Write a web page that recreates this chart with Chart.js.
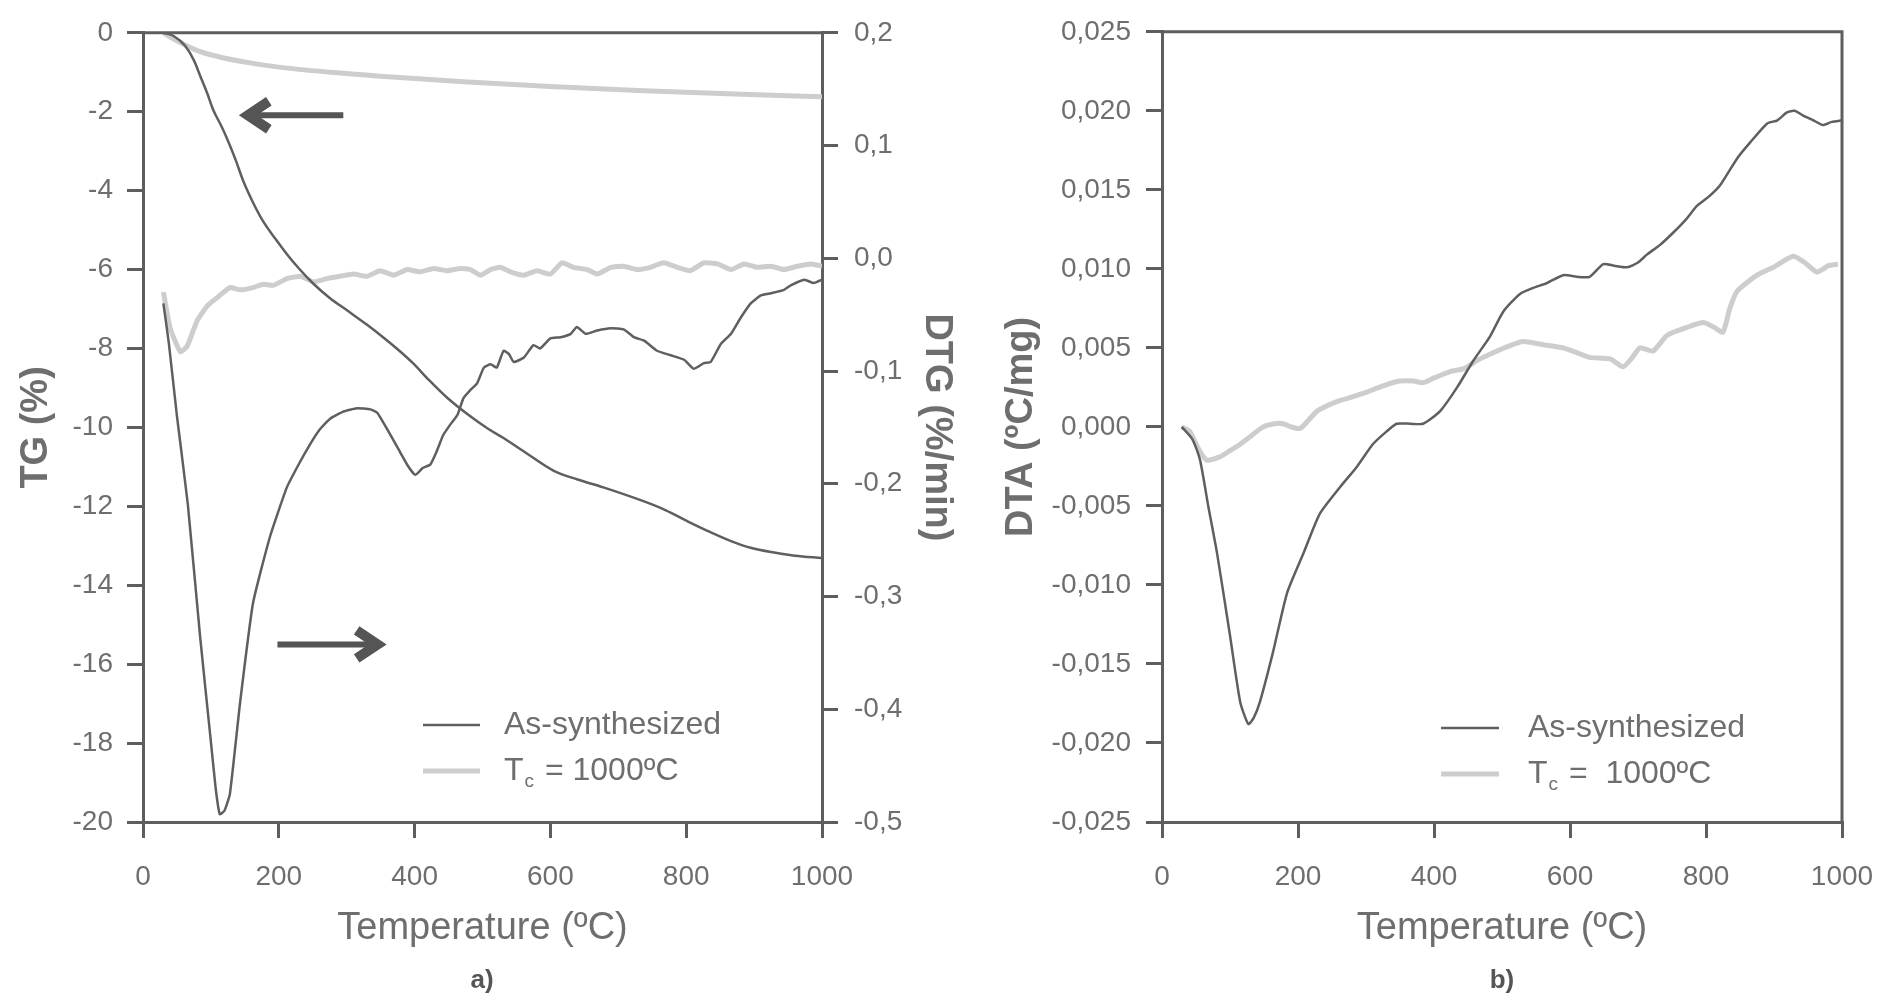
<!DOCTYPE html>
<html>
<head>
<meta charset="utf-8">
<script src="https://cdn.jsdelivr.net/npm/chart.js@4.4.1/dist/chart.umd.min.js"></script>
<style>
  html, body { margin: 0; padding: 0; background: #ffffff; }
  body { width: 1883px; height: 999px; overflow: hidden; position: relative; }
  canvas { position: absolute; top: 0; }
  #cA { left: 0; }
  #cB { left: 960px; }
  .panel { position: absolute; top: 963px; width: 60px; margin-left: -30px; text-align: center;
           font: bold 26px 'Liberation Sans', Arial, sans-serif; color: #555555; line-height: 32px; }
</style>
</head>
<body>
<canvas id="cA" width="960" height="999"></canvas>
<canvas id="cB" width="923" height="999"></canvas>
<div class="panel" id="pA" style="left:482px">a)</div>
<div class="panel" id="pB" style="left:1502px">b)</div>
<script>
// ---------------- data ----------------
const xTickValues = [0, 200, 400, 600, 800, 1000];
const xTickLabels = ['0', '200', '400', '600', '800', '1000'];
const tgTickValues = [0, -2, -4, -6, -8, -10, -12, -14, -16, -18, -20];
const tgTickLabels = ['0', '-2', '-4', '-6', '-8', '-10', '-12', '-14', '-16', '-18', '-20'];
const dtgTickValues = [0.2, 0.1, 0.0, -0.1, -0.2, -0.3, -0.4, -0.5];
const dtgTickLabels = ['0,2', '0,1', '0,0', '-0,1', '-0,2', '-0,3', '-0,4', '-0,5'];
const dtaTickValues = [0.025, 0.020, 0.015, 0.010, 0.005, 0.000, -0.005, -0.010, -0.015, -0.020, -0.025];
const dtaTickLabels = ['0,025', '0,020', '0,015', '0,010', '0,005', '0,000', '-0,005', '-0,010', '-0,015', '-0,020', '-0,025'];

const seriesNames = ['As-synthesized', '1000ºC'];

// TG (%) - as-synthesized
const tgAsT = [30, 45, 62, 75, 84, 95, 103, 115, 124, 136, 148, 162, 177, 195, 212, 230, 251, 275, 301, 330, 354, 375, 398, 420, 448, 482, 507, 531, 560, 605, 640, 678, 737, 770, 802, 835, 866, 895, 925, 960, 1000];
const tgAsV = [0.00, -0.08, -0.33, -0.70, -1.08, -1.55, -1.94, -2.35, -2.69, -3.20, -3.77, -4.30, -4.78, -5.22, -5.61, -5.98, -6.36, -6.72, -7.04, -7.40, -7.72, -8.02, -8.38, -8.78, -9.25, -9.72, -10.02, -10.27, -10.60, -11.10, -11.32, -11.52, -11.87, -12.10, -12.38, -12.65, -12.88, -13.05, -13.16, -13.25, -13.31];
// TG (%) - Tc = 1000 ºC
const tgTcT = [30, 50, 80, 110, 153, 200, 276, 350, 472, 600, 729, 850, 1000];
const tgTcV = [0.00, -0.20, -0.45, -0.60, -0.75, -0.87, -1.00, -1.10, -1.24, -1.36, -1.46, -1.54, -1.62];

// DTG (%/min) - as-synthesized
const dtgAsT = [30, 38, 50, 66, 84, 99, 107, 113, 120, 128, 143, 162, 187, 212, 230, 246, 260, 276, 295, 315, 335, 345, 360, 375, 390, 401, 412, 423, 432, 442, 452, 463, 472, 482, 492, 502, 512, 521, 531, 539, 546, 561, 575, 585, 600, 615, 630, 639, 652, 669, 689, 708, 723, 738, 757, 777, 797, 811, 826, 836, 851, 866, 880, 895, 910, 925, 944, 954, 974, 988, 1000];
const dtgAsV = [-0.040, -0.075, -0.140, -0.218, -0.335, -0.423, -0.470, -0.493, -0.490, -0.475, -0.394, -0.306, -0.247, -0.203, -0.182, -0.165, -0.152, -0.142, -0.136, -0.133, -0.134, -0.137, -0.152, -0.168, -0.184, -0.192, -0.186, -0.183, -0.172, -0.157, -0.148, -0.139, -0.124, -0.117, -0.111, -0.097, -0.094, -0.097, -0.082, -0.085, -0.092, -0.088, -0.077, -0.080, -0.071, -0.070, -0.067, -0.061, -0.067, -0.064, -0.062, -0.063, -0.070, -0.073, -0.082, -0.086, -0.090, -0.098, -0.093, -0.092, -0.076, -0.067, -0.053, -0.040, -0.033, -0.031, -0.028, -0.024, -0.019, -0.022, -0.019];
// DTG (%/min) - Tc = 1000 ºC
const dtgTcT = [30, 40, 55, 65, 80, 95, 109, 128, 143, 162, 177, 192, 212, 232, 251, 271, 290, 310, 330, 349, 369, 389, 408, 428, 448, 467, 482, 497, 512, 526, 541, 561, 580, 600, 617, 634, 654, 669, 689, 708, 728, 747, 767, 787, 806, 826, 846, 866, 885, 905, 925, 944, 964, 984, 1000];
const dtgTcV = [-0.030, -0.062, -0.083, -0.078, -0.055, -0.042, -0.035, -0.026, -0.028, -0.026, -0.023, -0.024, -0.018, -0.016, -0.021, -0.018, -0.016, -0.014, -0.016, -0.011, -0.015, -0.010, -0.012, -0.009, -0.011, -0.009, -0.010, -0.015, -0.010, -0.008, -0.012, -0.015, -0.011, -0.014, -0.004, -0.008, -0.010, -0.014, -0.008, -0.007, -0.010, -0.008, -0.004, -0.008, -0.011, -0.004, -0.005, -0.010, -0.005, -0.008, -0.007, -0.010, -0.007, -0.005, -0.007];

// DTA (ºC/mg) - as-synthesized
const dtaAsT = [29, 45, 56, 68, 81, 100, 115, 127, 135, 144, 163, 184, 208, 232, 262, 287, 310, 330, 345, 365, 384, 409, 434, 458, 482, 502, 526, 546, 566, 590, 610, 629, 649, 665, 684, 700, 713, 732, 752, 770, 787, 805, 821, 846, 865, 890, 905, 919, 930, 943, 958, 972, 985, 1000];
const dtaAsV = [0.0000, -0.0008, -0.0021, -0.0050, -0.0080, -0.0132, -0.0174, -0.0188, -0.0184, -0.0174, -0.0143, -0.0105, -0.0080, -0.0055, -0.0038, -0.0025, -0.0011, -0.0003, 0.0002, 0.0002, 0.0002, 0.0010, 0.0025, 0.0042, 0.0057, 0.0073, 0.0084, 0.0088, 0.0091, 0.0096, 0.0095, 0.0095, 0.0103, 0.0102, 0.0101, 0.0104, 0.0109, 0.0115, 0.0123, 0.0131, 0.0140, 0.0146, 0.0153, 0.0170, 0.0180, 0.0192, 0.0194, 0.0199, 0.0200, 0.0197, 0.0194, 0.0191, 0.0193, 0.0194];
// DTA (ºC/mg) - Tc = 1000 ºC
const dtaTcT = [29, 41, 55, 66, 85, 100, 115, 130, 149, 165, 178, 190, 203, 215, 228, 257, 280, 301, 325, 350, 370, 384, 400, 424, 445, 463, 482, 509, 531, 560, 590, 610, 629, 659, 678, 690, 703, 722, 743, 772, 796, 812, 825, 835, 846, 875, 899, 928, 945, 963, 980, 994];
const dtaTcV = [0.0000, -0.0003, -0.0015, -0.0021, -0.0019, -0.0015, -0.0011, -0.0006, 0.0000, 0.0002, 0.0002, 0.0000, -0.0001, 0.0004, 0.0010, 0.0016, 0.0019, 0.0022, 0.0026, 0.0029, 0.0029, 0.0028, 0.0031, 0.0035, 0.0037, 0.0042, 0.0046, 0.0051, 0.0054, 0.0052, 0.0050, 0.0047, 0.0044, 0.0043, 0.0038, 0.0043, 0.0050, 0.0048, 0.0058, 0.0063, 0.0066, 0.0063, 0.0060, 0.0075, 0.0086, 0.0096, 0.0101, 0.0108, 0.0104, 0.0098, 0.0102, 0.0103];

// ---------------- styling ----------------
const FONT = "'Liberation Sans', Arial, Helvetica, sans-serif";
const AXIS = '#5e5e5e';
const TEXT = '#6e6e6e';
const DARK = '#5f5f5f';
const LIGHT = '#cdcdcd';

const pts = (xs, ys) => xs.map((x, i) => ({ x: x, y: ys[i] }));
const setTicks = (values) => (scale) => { scale.ticks = values.map(v => ({ value: v })); };
const labelFrom = (values, labels) => (v) => {
  const i = values.findIndex(t => Math.abs(t - v) < 1e-9);
  return i >= 0 ? labels[i] : '';
};

function axisGrid() {
  return { drawOnChartArea: false, drawTicks: true, tickLength: 16, color: AXIS, lineWidth: 3 };
}
function axisBorder() {
  return { display: true, color: AXIS, width: 3 };
}
function xScale() {
  return {
    type: 'linear', position: 'bottom', min: 0, max: 1000,
    afterBuildTicks: setTicks(xTickValues),
    afterFit: (s) => { s.height = 177; s.paddingRight = 0; s.paddingLeft = 0; },
    ticks: { autoSkip: false, maxRotation: 0, padding: 22, color: TEXT, font: { family: FONT, size: 28 }, callback: labelFrom(xTickValues, xTickLabels) },
    grid: axisGrid(), border: axisBorder(),
    title: { display: true, text: 'Temperature (ºC)', color: TEXT, font: { family: FONT, size: 38 }, padding: { top: 0, bottom: 48 } }
  };
}

// decorations: frame lines, legend, arrows
const decor = {
  id: 'decor',
  afterDraw(chart, args, o) {
    const { ctx, chartArea: a } = chart;
    ctx.save();
    ctx.strokeStyle = AXIS; ctx.lineWidth = 3; ctx.lineCap = 'butt';
    ctx.beginPath();
    ctx.moveTo(a.left - 1.5, a.top); ctx.lineTo(a.right + 1.5, a.top);
    if (o.rightBorder) { ctx.moveTo(a.right, a.top); ctx.lineTo(a.right, a.bottom + 1.5); }
    ctx.stroke();

    // legend
    const lx0 = a.left + o.legend.x0, lx1 = a.left + o.legend.x1, tx = a.left + o.legend.tx;
    const y1 = o.legend.y1, y2 = o.legend.y2;
    ctx.strokeStyle = DARK; ctx.lineWidth = 2.5;
    ctx.beginPath(); ctx.moveTo(lx0, y1); ctx.lineTo(lx1, y1); ctx.stroke();
    ctx.strokeStyle = LIGHT; ctx.lineWidth = 5;
    ctx.beginPath(); ctx.moveTo(lx0, y2); ctx.lineTo(lx1, y2); ctx.stroke();
    ctx.fillStyle = TEXT; ctx.textBaseline = 'middle'; ctx.textAlign = 'left';
    ctx.font = '32px ' + FONT;
    ctx.fillText(seriesNames[0], tx, y1);
    ctx.fillText('T', tx, y2);
    const wT = ctx.measureText('T').width;
    ctx.font = '19px ' + FONT;
    ctx.fillText('c', tx + wT + 1, y2 + 11);
    const wc = ctx.measureText('c').width;
    ctx.font = '32px ' + FONT;
    ctx.fillText(o.legend.eq + seriesNames[1], tx + wT + wc + 3, y2);

    // arrows (placed in data units through the scales)
    if (o.arrows) {
      ctx.strokeStyle = '#555555';
      for (const ar of o.arrows) {
        const xs = chart.scales.x.getPixelForValue(ar.from);
        const xe = chart.scales.x.getPixelForValue(ar.to);
        const y = chart.scales.y.getPixelForValue(ar.at);
        const dir = xe > xs ? 1 : -1;
        ctx.lineWidth = 6; ctx.lineCap = 'butt';
        ctx.beginPath(); ctx.moveTo(xs, y); ctx.lineTo(xe - dir * 6, y); ctx.stroke();
        ctx.lineWidth = 10; ctx.lineJoin = 'miter'; ctx.miterLimit = 10;
        ctx.beginPath();
        ctx.moveTo(xe - dir * 24, y - 14); ctx.lineTo(xe - dir * 3, y); ctx.lineTo(xe - dir * 24, y + 14);
        ctx.stroke();
      }
    }
    ctx.restore();
  }
};

Chart.defaults.font.family = FONT;

// ---------------- chart a) ----------------
new Chart(document.getElementById('cA'), {
  type: 'line',
  data: {
    datasets: [
      { label: 'TG as-synthesized', data: pts(tgAsT, tgAsV), yAxisID: 'y', borderColor: DARK, borderWidth: 2.5, pointRadius: 0, cubicInterpolationMode: 'monotone' },
      { label: 'DTG as-synthesized', data: pts(dtgAsT, dtgAsV), yAxisID: 'y2', borderColor: DARK, borderWidth: 2.5, pointRadius: 0, tension: 0.15 },
      { label: 'TG Tc', data: pts(tgTcT, tgTcV), yAxisID: 'y', borderColor: LIGHT, borderWidth: 5, pointRadius: 0, cubicInterpolationMode: 'monotone' },
      { label: 'DTG Tc', data: pts(dtgTcT, dtgTcV), yAxisID: 'y2', borderColor: LIGHT, borderWidth: 5, pointRadius: 0, tension: 0.15 }
    ]
  },
  options: {
    responsive: false, animation: false, devicePixelRatio: 1,
    layout: { padding: { top: 26, right: 0, bottom: 0, left: 0 } },
    plugins: {
      legend: { display: false }, tooltip: { enabled: false },
      decor: {
        rightBorder: false,
        legend: { x0: 280, x1: 337, tx: 361, y1: 725, y2: 771, eq: ' = ' },
        arrows: [ { from: 295, to: 150, at: -2.09 }, { from: 198, to: 350, at: -15.5 } ]
      }
    },
    scales: {
      x: xScale(),
      y: {
        type: 'linear', position: 'left', min: -20, max: 0,
        afterBuildTicks: setTicks(tgTickValues),
        afterFit: (s) => { s.width = 143; },
        ticks: { autoSkip: false, padding: 14, color: TEXT, font: { family: FONT, size: 28 }, callback: labelFrom(tgTickValues, tgTickLabels) },
        grid: axisGrid(), border: axisBorder(),
        title: { display: true, text: 'TG (%)', color: TEXT, font: { family: FONT, size: 38, weight: 'bold' }, padding: { top: 14, bottom: 0 } }
      },
      y2: {
        type: 'linear', position: 'right', min: -0.5, max: 0.2,
        afterBuildTicks: setTicks(dtgTickValues),
        afterFit: (s) => { s.width = 138; },
        ticks: { autoSkip: false, padding: 16, color: TEXT, font: { family: FONT, size: 28 }, callback: labelFrom(dtgTickValues, dtgTickLabels) },
        grid: axisGrid(), border: axisBorder(),
        title: { display: true, text: 'DTG (%/min)', color: TEXT, font: { family: FONT, size: 38, weight: 'bold' }, padding: { top: 1, bottom: 0 } }
      }
    }
  },
  plugins: [decor]
});

// ---------------- chart b) ----------------
new Chart(document.getElementById('cB'), {
  type: 'line',
  data: {
    datasets: [
      { label: 'DTA as-synthesized', data: pts(dtaAsT, dtaAsV), borderColor: DARK, borderWidth: 2.5, pointRadius: 0, tension: 0.2 },
      { label: 'DTA Tc', data: pts(dtaTcT, dtaTcV), borderColor: LIGHT, borderWidth: 5, pointRadius: 0, tension: 0.2 }
    ]
  },
  options: {
    responsive: false, animation: false, devicePixelRatio: 1,
    layout: { padding: { top: 26, right: 41, bottom: 0, left: 0 } },
    plugins: {
      legend: { display: false }, tooltip: { enabled: false },
      decor: {
        rightBorder: true,
        legend: { x0: 279, x1: 337, tx: 366, y1: 728, y2: 774, eq: ' =  ' }
      }
    },
    scales: {
      x: xScale(),
      y: {
        type: 'linear', position: 'left', min: -0.025, max: 0.025,
        afterBuildTicks: setTicks(dtaTickValues),
        afterFit: (s) => { s.width = 202; },
        ticks: { autoSkip: false, padding: 15, color: TEXT, font: { family: FONT, size: 28 }, callback: labelFrom(dtaTickValues, dtaTickLabels) },
        grid: axisGrid(), border: axisBorder(),
        title: { display: true, text: 'DTA (ºC/mg)', color: TEXT, font: { family: FONT, size: 38, weight: 'bold' }, padding: { top: 39, bottom: 0 } }
      }
    }
  },
  plugins: [decor]
});
</script>
</body>
</html>
